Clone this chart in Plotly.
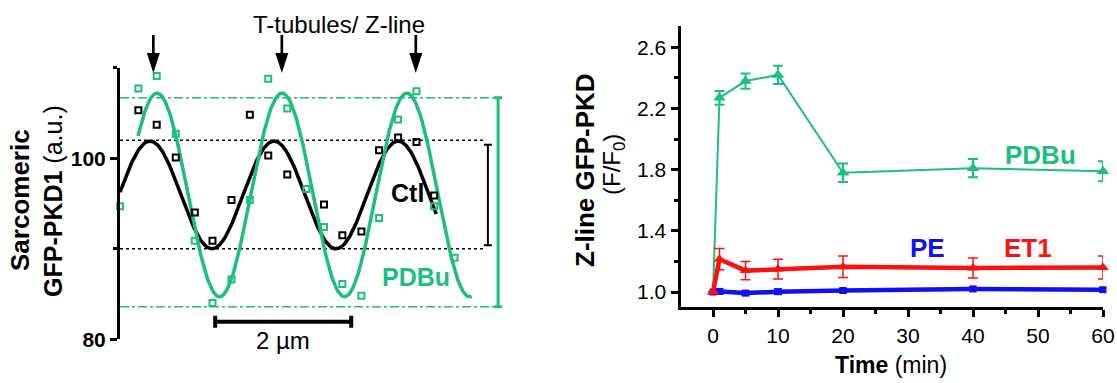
import numpy as np
import plotly.graph_objects as go

W, H = 1117, 383
FONT = "Arial, 'Liberation Sans', Helvetica, sans-serif"
GREEN = "#1DBE7E"
RED = "#FF1010"
BLUE = "#1010F0"
BLACK = "#000000"

# ---------------- Left panel data (position in um, intensity a.u.) ----------------
pos_um = [0.00, 0.27, 0.54, 0.82, 1.10, 1.36, 1.64, 1.91, 2.18, 2.46, 2.74,
          3.00, 3.27, 3.55, 3.81, 4.09, 4.36, 4.62, 4.92]
ctl_vals = [None, 105.3, 103.7, 100.1, 94.0, 90.9, 95.4, 104.8, 100.3, 98.2, None,
            94.9, 91.5, 91.9, 100.9, 102.3, 101.8, 95.9, None]
pdbu_vals = [94.7, 107.7, 109.1, 102.7, 90.9, 84.0, 86.6, 95.4, 108.8, 105.5, 96.6,
             92.4, 86.1, 84.8, 93.4, 104.3, 107.4, 94.7, 89.0]

# sine-fit parameters: mean, amplitude, period (um), first peak (um), start, end (um)
ctl_fit = [95.95, 5.95, 1.824, 0.441, 0.0, 4.65]
pdbu_fit = [95.95, 11.25, 1.838, 0.544, 0.265, 5.17]

ctl_levels = [102.0, 90.0]      # dotted max/min levels
pdbu_levels = [106.7, 83.6]     # dash-dot max/min levels
ctl_range = [101.5, 90.4]       # amplitude bar
pdbu_range = [106.7, 83.6]
zline_pos = [0.49, 2.38, 4.35]  # arrows (T-tubules / Z-line)
scale_bar = [1.40, 2.0, 81.95]  # start (um), length (um), level

# ---------------- Right panel data ----------------
time_min = [0, 1, 5, 10, 20, 40, 60]
pdbu_r = [1.00, 2.27, 2.38, 2.42, 1.78, 1.81, 1.79]
pdbu_err = [0, 0.045, 0.05, 0.06, 0.06, 0.06, 0.065]
et1_r = [1.00, 1.215, 1.14, 1.15, 1.165, 1.157, 1.16]
et1_err = [0, 0.07, 0.06, 0.065, 0.07, 0.065, 0.075]
pe_r = [1.00, 1.004, 0.993, 1.002, 1.01, 1.02, 1.015]
pe_err = [0, 0.018, 0.015, 0.017, 0.015, 0.012, 0.015]


def sine_fit(p):
    mean, amp, period, peak, start, end = p
    x = np.linspace(start, end, 500)
    return x, mean + amp * np.cos(2 * np.pi * (x - peak) / period)


fig = go.Figure()

# reference level lines
for lv in ctl_levels:
    fig.add_trace(go.Scatter(x=[0, 5.37], y=[lv, lv], mode="lines",
                             line=dict(color=BLACK, width=1.5, dash="dot"),
                             xaxis="x", yaxis="y", hoverinfo="skip"))
for lv in pdbu_levels:
    fig.add_trace(go.Scatter(x=[0, 5.51], y=[lv, lv], mode="lines",
                             line=dict(color=GREEN, width=1.5, dash="dashdot"),
                             xaxis="x", yaxis="y", hoverinfo="skip"))

# fitted curves
xc, yc = sine_fit(ctl_fit)
fig.add_trace(go.Scatter(x=xc, y=yc, mode="lines", line=dict(color=BLACK, width=3.5),
                         xaxis="x", yaxis="y", cliponaxis=False))
xg, yg = sine_fit(pdbu_fit)
fig.add_trace(go.Scatter(x=xg, y=yg, mode="lines", line=dict(color=GREEN, width=3.5),
                         xaxis="x", yaxis="y", cliponaxis=False))

# raw points
fig.add_trace(go.Scatter(x=pos_um, y=ctl_vals, mode="markers",
                         marker=dict(symbol="square-open", size=6, color=BLACK,
                                     line=dict(width=2, color=BLACK)),
                         xaxis="x", yaxis="y", cliponaxis=False))
fig.add_trace(go.Scatter(x=pos_um, y=pdbu_vals, mode="markers",
                         marker=dict(symbol="square-open", size=6, color=GREEN,
                                     line=dict(width=2, color=GREEN)),
                         xaxis="x", yaxis="y", cliponaxis=False))

# amplitude bars
for xb, rng, col, th in [(5.41, ctl_range, BLACK, 2), (5.56, pdbu_range, GREEN, 3)]:
    mid = (rng[0] + rng[1]) / 2
    half = (rng[0] - rng[1]) / 2
    fig.add_trace(go.Scatter(x=[xb], y=[mid], mode="markers", marker=dict(size=1, opacity=0),
                             error_y=dict(type="constant", value=half, color=col,
                                          thickness=th, width=4),
                             xaxis="x", yaxis="y", cliponaxis=False))

# arrow heads for Z-lines
ARROW_TIP = 109.43
fig.add_trace(go.Scatter(x=zline_pos, y=[ARROW_TIP] * len(zline_pos), mode="markers",
                         marker=dict(symbol="arrow", angle=180, size=21, color=BLACK,
                                     line=dict(width=0)),
                         xaxis="x", yaxis="y", cliponaxis=False))

# ---------------- Right panel traces ----------------
fig.add_trace(go.Scatter(x=time_min, y=pdbu_r, mode="lines+markers",
                         line=dict(color=GREEN, width=2),
                         marker=dict(symbol="triangle-up", size=11, color=GREEN),
                         error_y=dict(type="data", array=pdbu_err, color=GREEN,
                                      thickness=2, width=5),
                         xaxis="x2", yaxis="y2", cliponaxis=False))
fig.add_trace(go.Scatter(x=time_min, y=pe_r, mode="lines+markers",
                         line=dict(color=BLUE, width=4.5),
                         marker=dict(symbol="square", size=7, color=BLUE),
                         error_y=dict(type="data", array=pe_err, color=BLUE,
                                      thickness=1.5, width=4),
                         xaxis="x2", yaxis="y2", cliponaxis=False))
fig.add_trace(go.Scatter(x=time_min, y=et1_r, mode="lines+markers",
                         line=dict(color=RED, width=4.5),
                         marker=dict(symbol="triangle-up", size=10, color=RED),
                         error_y=dict(type="data", array=et1_err, color=RED,
                                      thickness=1.5, width=5),
                         xaxis="x2", yaxis="y2", cliponaxis=False))

left_x_dom = [120 / W, 510 / W]
left_y_dom = [1 - 339.3 / H, 1 - 67.8 / H]
right_x_dom = [680.5 / W, 1103 / W]
right_y_dom = [1 - 307.3 / H, 1 - 26 / H]
YMIN, YMAX = 80, 110


def yfrac(v):
    """paper y of a left-panel data value"""
    return left_y_dom[0] + (v - YMIN) / (YMAX - YMIN) * (left_y_dom[1] - left_y_dom[0])


# ---------------- shapes: scale bar, arrow shafts ----------------
sb0, sbl, sby = scale_bar
shapes = [
    dict(type="line", xref="x", yref="y", x0=sb0, x1=sb0 + sbl, y0=sby, y1=sby,
         line=dict(color=BLACK, width=4)),
]
for xe in [sb0, sb0 + sbl]:
    shapes.append(dict(type="line", xref="x", yref="y", ysizemode="pixel", yanchor=sby,
                       x0=xe, x1=xe, y0=-6, y1=6, line=dict(color=BLACK, width=4)))
for z in zline_pos:
    shapes.append(dict(type="line", xref="x", yref="paper", ysizemode="pixel",
                       yanchor=yfrac(ARROW_TIP), x0=z, x1=z, y0=12, y1=38,
                       line=dict(color=BLACK, width=2.7)))


def px(xp, yp):
    return xp / W, 1 - yp / H


annotations = []


def txt(xp, yp, text, size, color=BLACK, angle=0):
    x, y = px(xp, yp)
    annotations.append(dict(x=x, y=y, xref="paper", yref="paper", text=text,
                            showarrow=False, xanchor="center", yanchor="middle",
                            textangle=angle, font=dict(family=FONT, size=size, color=color)))


txt(339, 25, "T-tubules/ Z-line", 24)
txt(407, 193, "<b>Ctl</b>", 25)
txt(416, 277, "<b>PDBu</b>", 25, GREEN)
txt(283, 340, "2 µm", 24)
txt(20, 200, "<b>Sarcomeric</b>", 26, angle=-90)
txt(53, 201, "<b>GFP-PKD1</b> (a.u.)", 25, angle=-90)

txt(1040, 155, "<b>PDBu</b>", 26, GREEN)
txt(927, 248, "<b>PE</b>", 26, BLUE)
txt(1028, 248, "<b>ET1</b>", 26, RED)
txt(585, 170, "<b>Z-line GFP-PKD</b>", 26, angle=-90)
txt(613, 165, "(F/F<sub>0</sub>)", 24, angle=-90)
txt(891, 365, "<b>Time</b> (min)", 23)

axis_common = dict(showgrid=False, zeroline=False, showline=True, linecolor=BLACK,
                   linewidth=3, ticks="outside", tickwidth=3, tickcolor=BLACK, ticklen=7,
                   automargin=False)

fig.update_layout(
    width=W, height=H, autosize=False,
    margin=dict(l=0, r=0, t=0, b=0, pad=0),
    paper_bgcolor="white", plot_bgcolor="white",
    showlegend=False,
    font=dict(family=FONT, color=BLACK),
    xaxis=dict(domain=left_x_dom, range=[0, 390 / 68], visible=False, anchor="y",
               automargin=False),
    yaxis=dict(domain=left_y_dom, range=[YMIN, YMAX], anchor="x",
               tickvals=[80, 100], ticktext=["<b>80</b>", "<b>100</b>"],
               tickfont=dict(size=21, family=FONT),
               minor=dict(tickvals=[90, 110], ticklen=4, tickwidth=3, tickcolor=BLACK,
                          ticks="outside"),
               **axis_common),
    xaxis2=dict(domain=right_x_dom, range=[-5, 60], anchor="y2",
                tickvals=[0, 10, 20, 30, 40, 50, 60],
                tickfont=dict(size=21, family=FONT),
                minor=dict(tickvals=[5, 15, 25, 35, 45, 55], ticklen=4, tickwidth=3,
                           tickcolor=BLACK, ticks="outside"),
                **axis_common),
    yaxis2=dict(domain=right_y_dom, range=[0.9, 2.74], anchor="x2",
                tickvals=[1.0, 1.4, 1.8, 2.2, 2.6],
                ticktext=["1.0", "1.4", "1.8", "2.2", "2.6"],
                tickfont=dict(size=21, family=FONT),
                minor=dict(tickvals=[1.2, 1.6, 2.0, 2.4], ticklen=4, tickwidth=3,
                           tickcolor=BLACK, ticks="outside"),
                **axis_common),
    shapes=shapes,
    annotations=annotations,
)

fig.write_html("out.html", config={"responsive": False},
               post_script="document.body.style.margin='0px';document.body.style.padding='0px';")
